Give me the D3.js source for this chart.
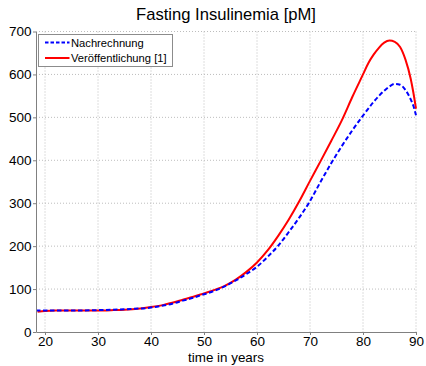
<!DOCTYPE html>
<html>
<head>
<meta charset="utf-8">
<script src="https://cdn.jsdelivr.net/npm/d3@7"></script>
<style>
    body { margin: 0; background: #fff; }
    svg { display: block; font-family: "Liberation Sans", Arial, sans-serif; }
</style>
</head>
<body>
<div id="chart"></div>
<script>
var xTicks = [20, 30, 40, 50, 60, 70, 80, 90];
var yTicks = [0, 100, 200, 300, 400, 500, 600, 700];

// Nachrechnung (blue dashed)
var nachYears = [18.3, 20, 25, 30, 35, 40, 42, 44, 46, 48, 50, 52, 54, 56, 58, 60, 62, 64, 66, 68, 70, 72, 74, 76, 78, 80, 82, 84, 85, 86, 87, 88, 89, 89.5, 90];
var nachValues = [50, 50, 50, 51, 53, 57, 61, 66, 73, 80, 88, 96, 107, 120, 135, 152, 175, 201, 233, 267, 305, 350, 393, 433, 470, 504, 536, 562, 572, 578, 576, 564, 542, 527, 505];

// Veröffentlichung [1] (red solid)
var verYears = [18.6, 20, 22, 25, 28, 30, 33, 35, 38, 40, 42, 44, 46, 48, 50, 52, 54, 56, 58, 60, 62, 64, 66, 68, 70, 72, 74, 76, 78, 80, 81, 82, 83, 84, 85, 86, 87, 88, 89, 89.5, 90];
var verValues = [47, 49, 50, 50, 50, 50, 51, 52, 55, 58, 62, 68, 75, 82, 90, 98, 108, 122, 140, 162, 190, 224, 262, 305, 352, 398, 445, 493, 548, 600, 626, 646, 662, 674, 679, 676, 664, 635, 590, 558, 520];

var series = [
    { name: "Nachrechnung", years: nachYears, values: nachValues, color: "#0000ff", dash: "4.5,2.5" },
    { name: "Veröffentlichung [1]", years: verYears, values: verValues, color: "#ff0000", dash: null }
];

(function (selector) {
    var svg = d3.select(selector).append("svg")
        .attr("width", 426)
        .attr("height", 366);

    var margin = { top: 31.5, right: 10, bottom: 34, left: 36 },
        width = 426 - margin.left - margin.right,
        height = 366 - margin.top - margin.bottom,
        g = svg.append("g").attr("transform", "translate(" + margin.left + "," + margin.top + ")");

    var x = d3.scaleLinear()
        .domain([18.3, 90])
        .range([0, width]);

    var y = d3.scaleLinear()
        .domain([0, 700])
        .range([height, 0]);

    // dotted grid
    g.append("g")
        .selectAll("line")
        .data(xTicks)
        .enter().append("line")
        .attr("x1", function (d) { return x(d); })
        .attr("x2", function (d) { return x(d); })
        .attr("y1", 0)
        .attr("y2", height)
        .attr("stroke", "#bdbdbd")
        .attr("stroke-dasharray", "1,2");

    g.append("g")
        .selectAll("line")
        .data(yTicks.slice(1))
        .enter().append("line")
        .attr("x1", 0)
        .attr("x2", width)
        .attr("y1", function (d) { return y(d); })
        .attr("y2", function (d) { return y(d); })
        .attr("stroke", "#bdbdbd")
        .attr("stroke-dasharray", "1,2");

    var line = d3.line()
        .curve(d3.curveMonotoneX)
        .x(function (d) { return x(d[0]); })
        .y(function (d) { return y(d[1]); });

    // red first so the blue dashes sit on top like the original
    g.selectAll("path.series")
        .data(series.slice().reverse())
        .enter().append("path")
        .attr("class", "series")
        .attr("fill", "none")
        .attr("stroke", function (d) { return d.color; })
        .attr("stroke-width", 2)
        .attr("stroke-dasharray", function (d) { return d.dash; })
        .attr("d", function (d) { return line(d3.zip(d.years, d.values)); });

    var xAxis = g.append("g")
        .attr("transform", "translate(0," + height + ")")
        .call(d3.axisBottom(x).tickValues(xTicks).tickSize(3).tickSizeOuter(0));
    var yAxis = g.append("g")
        .call(d3.axisLeft(y).tickValues(yTicks).tickSize(3).tickSizeOuter(0));

    [xAxis, yAxis].forEach(function (a) {
        a.select(".domain").attr("stroke", "#808080");
        a.selectAll(".tick line").attr("stroke", "#808080");
        a.selectAll("text")
            .attr("font-family", "Liberation Sans, Arial, sans-serif")
            .attr("font-size", 13.5)
            .attr("fill", "#000");
    });
    xAxis.selectAll("text").attr("y", 4.5);
    yAxis.selectAll("text").attr("x", -4.5);

    svg.append("text")
        .attr("x", margin.left + width / 2)
        .attr("y", 20)
        .attr("text-anchor", "middle")
        .attr("font-size", 16.6)
        .text("Fasting Insulinemia [pM]");

    svg.append("text")
        .attr("x", margin.left + width / 2)
        .attr("y", 362)
        .attr("text-anchor", "middle")
        .attr("font-size", 13.4)
        .text("time in years");

    // legend
    var legend = svg.append("g")
        .attr("transform", "translate(38.5,34.5)");

    legend.append("rect")
        .attr("width", 134)
        .attr("height", 32)
        .attr("fill", "#fff")
        .attr("stroke", "#8c8c8c");

    var item = legend.selectAll("g.item")
        .data(series)
        .enter().append("g")
        .attr("class", "item")
        .attr("transform", function (d, i) { return "translate(0," + (8 + i * 15.5) + ")"; });

    item.append("line")
        .attr("x1", 6.5)
        .attr("x2", 31)
        .attr("stroke", function (d) { return d.color; })
        .attr("stroke-width", 2)
        .attr("stroke-dasharray", function (d) { return d.dash ? "3.5,2" : null; });

    item.append("text")
        .attr("x", 32.5)
        .attr("y", 4)
        .attr("font-size", 11.2)
        .text(function (d) { return d.name; });
})("#chart");
</script>
</body>
</html>
